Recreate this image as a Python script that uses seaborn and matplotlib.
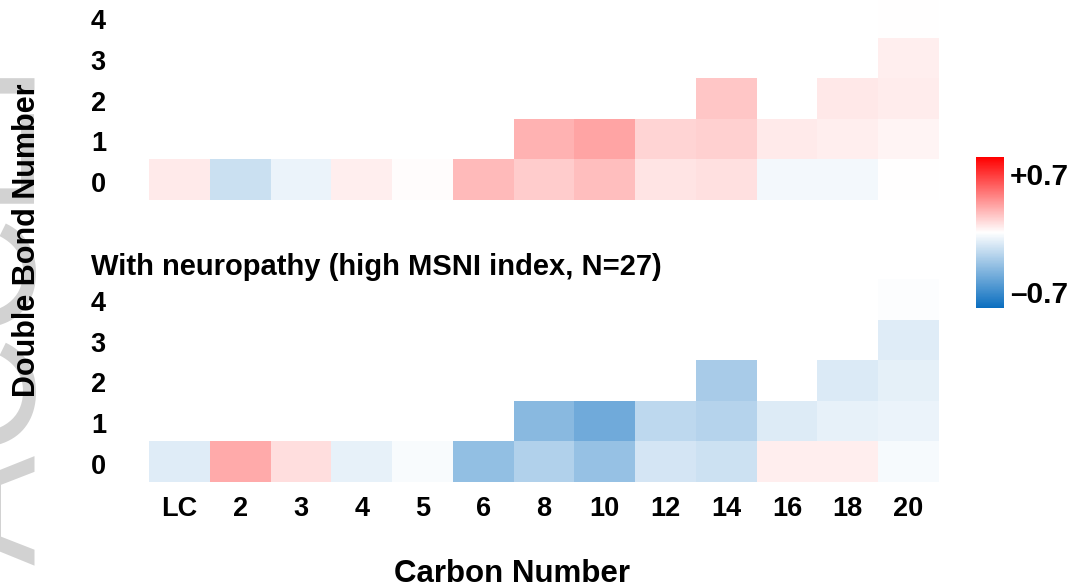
import numpy as np
import pandas as pd
import matplotlib
matplotlib.use("Agg")
import matplotlib.pyplot as plt
from matplotlib.colors import LinearSegmentedColormap
from matplotlib.transforms import ScaledTranslation
import seaborn as sns

# ---- data -------------------------------------------------------------
carbon_labels = ["LC", "2", "3", "4", "5", "6", "8", "10", "12", "14", "16", "18", "20"]
double_bonds = [4, 3, 2, 1, 0]
nan = np.nan

# Without neuropathy (low MSNI index)
low_db0 = [0.055, -0.15, -0.06, 0.045, 0.01, 0.19, 0.14, 0.18, 0.075, 0.085, -0.035, -0.035, 0.005]
low_db1 = [nan, nan, nan, nan, nan, nan, 0.21, 0.25, 0.115, 0.13, 0.055, 0.045, 0.03]
low_db2 = [nan, nan, nan, nan, nan, nan, nan, nan, nan, 0.155, nan, 0.065, 0.05]
low_db3 = [nan, nan, nan, nan, nan, nan, nan, nan, nan, nan, nan, nan, 0.045]
low_db4 = [nan, nan, nan, nan, nan, nan, nan, nan, nan, nan, nan, nan, 0.0]

# With neuropathy (high MSNI index, N=27)
high_db0 = [-0.09, 0.23, 0.09, -0.07, -0.018, -0.31, -0.22, -0.30, -0.125, -0.145, 0.045, 0.045, -0.025]
high_db1 = [nan, nan, nan, nan, nan, nan, -0.335, -0.41, -0.19, -0.21, -0.095, -0.07, -0.055]
high_db2 = [nan, nan, nan, nan, nan, nan, nan, nan, nan, -0.25, nan, -0.10, -0.075]
high_db3 = [nan, nan, nan, nan, nan, nan, nan, nan, nan, nan, nan, nan, -0.09]
high_db4 = [nan, nan, nan, nan, nan, nan, nan, nan, nan, nan, nan, nan, -0.008]

vmin, vmax = -0.7, 0.7
cbar_labels = ["+0.7", "\u20130.7"]
title_high = "With neuropathy (high MSNI index, N=27)"

low = pd.DataFrame([low_db4, low_db3, low_db2, low_db1, low_db0],
                   index=double_bonds, columns=carbon_labels)
high = pd.DataFrame([high_db4, high_db3, high_db2, high_db1, high_db0],
                    index=double_bonds, columns=carbon_labels)

# ---- style ------------------------------------------------------------
sns.set_theme(style="white")
plt.rcParams["font.family"] = ["Liberation Sans", "DejaVu Sans"]
plt.rcParams["font.weight"] = "bold"
plt.rcParams["text.color"] = "black"
plt.rcParams["xtick.color"] = "black"
plt.rcParams["ytick.color"] = "black"

cmap = LinearSegmentedColormap.from_list("bwr_custom", ["#0a6ebf", "#ffffff", "#ff0000"])

W, H = 1075, 587
fig = plt.figure(figsize=(W / 100, H / 100), dpi=100)

# faint rotated watermark at the left edge
fig.text(35 / W, 1 - 565 / H, "ACCEPTED MANUSCRIPT", rotation=90, rotation_mode="anchor",
         ha="left", va="baseline", fontsize=119, fontweight="normal",
         color="#d2d2d2", zorder=0)

ax_top = fig.add_axes([149 / W, 1 - 200 / H, 790 / W, 203 / H])
ax_bot = fig.add_axes([149 / W, 1 - 482 / H, 790 / W, 203 / H])
cax = fig.add_axes([976 / W, 1 - 308 / H, 28 / W, 151 / H])

sns.heatmap(low, ax=ax_top, cmap=cmap, vmin=vmin, vmax=vmax,
            cbar=True, cbar_ax=cax, cbar_kws={"ticks": []})
sns.heatmap(high, ax=ax_bot, cmap=cmap, vmin=vmin, vmax=vmax, cbar=False)

tick_fs = 19.5
shift_down = ScaledTranslation(0, -5 / 100, fig.dpi_scale_trans)
for ax in (ax_top, ax_bot):
    ax.set_xlabel("")
    ax.set_ylabel("")
    ax.tick_params(axis="both", length=0)
    ax.tick_params(axis="y", pad=31)
    ax.set_yticklabels([str(d) for d in double_bonds], rotation=0,
                       fontsize=tick_fs, fontweight="bold")
    for lbl in ax.get_yticklabels():
        lbl.set_transform(lbl.get_transform() + shift_down)
    ax.patch.set_alpha(0)

ax_top.set_xticks([])
ax_bot.tick_params(axis="x", pad=10)
ax_bot.set_xticklabels(carbon_labels, rotation=0, fontsize=tick_fs, fontweight="bold")

# colour bar
cbar = ax_top.collections[0].colorbar
cbar.outline.set_visible(False)
cax.text(1.22, 0.868, cbar_labels[0], transform=cax.transAxes, ha="left", va="center",
         fontsize=21.5, fontweight="bold")
cax.text(1.22, 0.086, cbar_labels[1], transform=cax.transAxes, ha="left", va="center",
         fontsize=21.5, fontweight="bold")

# titles and axis labels
fig.text(91 / W, 1 - 275 / H, title_high, ha="left", va="baseline",
         fontsize=21, fontweight="bold")
fig.text(512 / W, 1 - 582 / H, "Carbon Number", ha="center", va="baseline",
         fontsize=22.5, fontweight="bold")
fig.text(35 / W, 1 - 240 / H, "Double Bond Number", rotation=90, rotation_mode="anchor",
         ha="center", va="baseline", fontsize=22, fontweight="bold")

fig.savefig("out.png", dpi=100)
